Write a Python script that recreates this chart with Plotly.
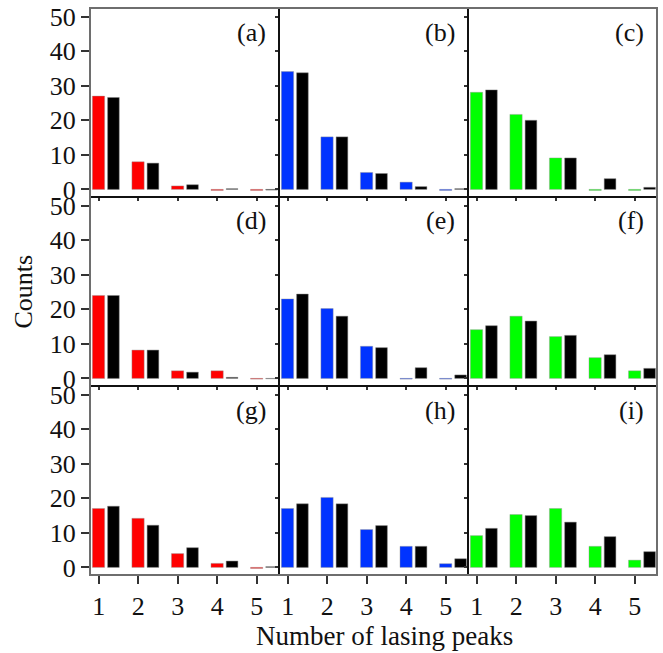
import plotly.graph_objects as go

# ---------------- data ----------------
peaks = [1, 2, 3, 4, 5]
tick_labels = ["1", "2", "3", "4", "5"]
y_ticks = [0, 10, 20, 30, 40, 50]
panel_labels = ["(a)", "(b)", "(c)", "(d)", "(e)", "(f)", "(g)", "(h)", "(i)"]

# coloured (measured) and black (simulated) counts for each panel
col_a = [27.0, 8.0, 1.0, -0.3, -0.3]
blk_a = [26.6, 7.6, 1.35, 0.2, -0.2]
col_b = [34.1, 15.2, 4.9, 2.1, -0.3]
blk_b = [33.75, 15.2, 4.6, 0.8, 0.2]
col_c = [28.1, 21.7, 9.1, -0.3, -0.3]
blk_c = [28.8, 20.0, 9.1, 3.1, 0.6]

col_d = [24.0, 8.2, 2.2, 2.2, -0.2]
blk_d = [24.0, 8.2, 1.8, 0.3, -0.1]
col_e = [23.0, 20.2, 9.3, -0.2, -0.2]
blk_e = [24.4, 18.0, 8.9, 3.1, 1.0]
col_f = [14.1, 18.0, 12.1, 6.0, 2.2]
blk_f = [15.25, 16.6, 12.45, 6.85, 2.9]

col_g = [17.05, 14.2, 4.0, 1.16, -0.3]
blk_g = [17.7, 12.2, 5.7, 1.84, 0.2]
col_h = [17.05, 20.25, 10.95, 6.1, 1.07]
blk_h = [18.4, 18.4, 12.1, 6.1, 2.5]
col_i = [9.2, 15.3, 17.05, 6.1, 2.1]
blk_i = [11.3, 15.0, 13.1, 8.9, 4.55]

coloured = [col_a, col_b, col_c, col_d, col_e, col_f, col_g, col_h, col_i]
black = [blk_a, blk_b, blk_c, blk_d, blk_e, blk_f, blk_g, blk_h, blk_i]
column_colours = ["#ff0000", "#0033ff", "#00ff00"]

# ---------------- figure ----------------
FONT = "Liberation Serif, Times New Roman, serif"
fig = go.Figure()

for i in range(9):
    r, c = divmod(i, 3)
    ax = "" if i == 0 else str(i + 1)
    fig.add_trace(go.Bar(
        x=peaks, y=coloured[i], xaxis="x" + ax, yaxis="y" + ax,
        marker=dict(color=column_colours[c], line=dict(width=0.6, color="rgba(150,150,150,0.7)")),
        offset=-0.16, width=0.31, showlegend=False))
    fig.add_trace(go.Bar(
        x=peaks, y=black[i], xaxis="x" + ax, yaxis="y" + ax,
        marker=dict(color="#000000", line=dict(width=0.6, color="rgba(130,130,130,0.8)")),
        offset=0.225, width=0.295, showlegend=False))

    xdom = [c / 3, (c + 1) / 3]
    ydom = [1 - (r + 1) / 3, 1 - r / 3]
    bottom = (r == 2)
    left = (c == 0)
    fig.update_layout(**{
        "xaxis" + ax: dict(
            domain=xdom, anchor="y" + ax, range=[0.78, 5.56], automargin=False,
            tickmode="array", tickvals=peaks, ticktext=tick_labels,
            showticklabels=bottom, ticks="outside",
            ticklen=8 if bottom else 3, tickwidth=1.5, tickcolor="#333",
            showline=True, mirror=True, linecolor="#111", linewidth=1.1,
            showgrid=False, zeroline=False,
            tickfont=dict(family=FONT, size=26, color="#111"),
        ),
        "yaxis" + ax: dict(
            domain=ydom, anchor="x" + ax, range=[-2.2, 52.5], automargin=False,
            tickmode="array", tickvals=y_ticks,
            showticklabels=left, ticks="outside",
            ticklen=8 if left else 3, tickwidth=1.5, tickcolor="#333",
            showline=True, mirror=True, linecolor="#111", linewidth=1.1,
            showgrid=False, zeroline=False,
            tickfont=dict(family=FONT, size=26, color="#111"),
        ),
    })
    fig.add_annotation(
        text=panel_labels[i], xref="x" + ax + " domain", yref="y" + ax + " domain",
        x=1, y=1, xanchor="right", yanchor="middle", xshift=-11, yshift=-24,
        showarrow=False, font=dict(family=FONT, size=26, color="#111"))

# outer grey frame
fig.add_shape(type="rect", xref="paper", yref="paper", x0=0, x1=1, y0=0, y1=1,
              line=dict(color="#6e6e6e", width=2), layer="above")

fig.add_annotation(text="Counts", xref="paper", yref="paper", x=-0.118, y=0.5,
                   textangle=-90, showarrow=False, xanchor="center", yanchor="middle",
                   font=dict(family=FONT, size=26, color="#111"))
fig.add_annotation(text="Number of lasing peaks", xref="paper", yref="paper",
                   x=0.52, y=-0.108, showarrow=False, xanchor="center", yanchor="middle",
                   font=dict(family=FONT, size=27, color="#111"))

fig.update_layout(
    width=663, height=653, barmode="overlay",
    margin=dict(l=90, r=6, t=8, b=78, autoexpand=False),
    paper_bgcolor="white", plot_bgcolor="white",
)

fig.write_html("out.html", config={"displayModeBar": False},
               post_script="document.body.style.margin='0';document.body.style.padding='0';")
